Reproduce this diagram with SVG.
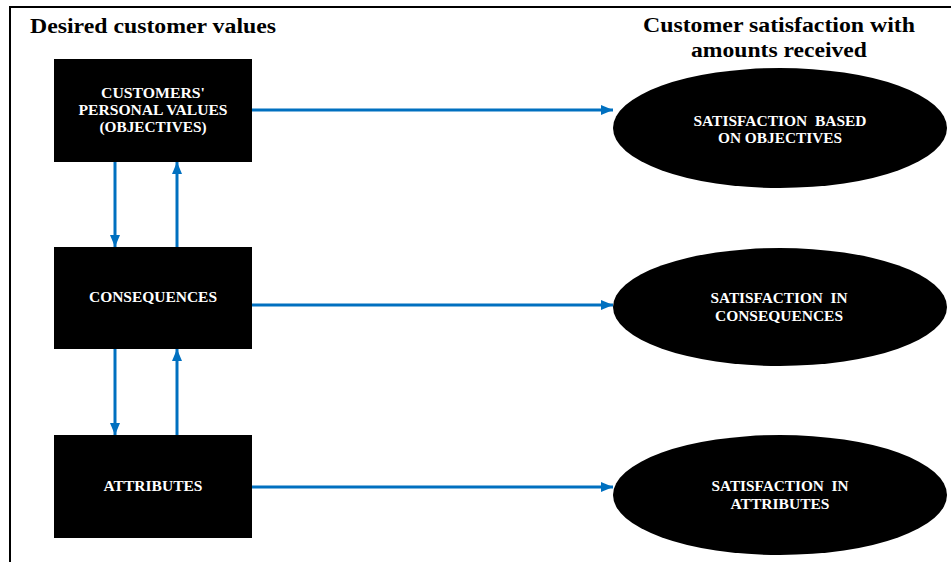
<svg xmlns="http://www.w3.org/2000/svg" width="951" height="562" viewBox="0 0 951 562">
<defs>
<style>
.title{font-family:"Liberation Serif","Times New Roman",serif;font-weight:bold;font-size:20px;fill:#000}
.lbl{font-family:"Liberation Serif","Times New Roman",serif;font-weight:bold;font-size:14px;fill:#fff;text-anchor:middle;white-space:pre}
.node{fill:#000}
.conn{stroke:#0070C0;stroke-width:3;fill:none;marker-end:url(#ah)}
</style>
<marker id="ah" viewBox="0 0 12 10" refX="12" refY="5" markerWidth="4" markerHeight="3.4" markerUnits="strokeWidth" orient="auto">
<path d="M0,0 L12,5 L0,10 Z" fill="#0070C0"/>
</marker>
</defs>
<rect width="951" height="562" fill="#fff"/>
<path d="M10,562 V7 H951" fill="none" stroke="#000" stroke-width="2"/>
<text class="title" x="30" y="33" textLength="246" lengthAdjust="spacingAndGlyphs">Desired customer values</text>
<text class="title" x="779" y="32" text-anchor="middle" textLength="272" lengthAdjust="spacingAndGlyphs">Customer satisfaction with</text>
<text class="title" x="779" y="57" text-anchor="middle" textLength="176" lengthAdjust="spacingAndGlyphs">amounts received</text>
<g id="connectors">
<line class="conn" x1="252" y1="110" x2="613" y2="110"/>
<line class="conn" x1="252" y1="305" x2="613" y2="305"/>
<line class="conn" x1="252" y1="487" x2="613" y2="487"/>
<line class="conn" x1="115" y1="162" x2="115" y2="247"/>
<line class="conn" x1="177" y1="247" x2="177" y2="162"/>
<line class="conn" x1="115" y1="349" x2="115" y2="435"/>
<line class="conn" x1="177" y1="435" x2="177" y2="349"/>
</g>
<g id="n-values">
<rect class="node" x="54" y="59" width="198" height="103"/>
<text class="lbl" x="153" y="97.5" textLength="104" lengthAdjust="spacingAndGlyphs">CUSTOMERS'</text>
<text class="lbl" x="153" y="115" textLength="149" lengthAdjust="spacingAndGlyphs">PERSONAL VALUES</text>
<text class="lbl" x="153" y="132" textLength="107" lengthAdjust="spacingAndGlyphs">(OBJECTIVES)</text>
</g>
<g id="n-consequences">
<rect class="node" x="54" y="247" width="198" height="102"/>
<text class="lbl" x="153" y="302" textLength="128" lengthAdjust="spacingAndGlyphs">CONSEQUENCES</text>
</g>
<g id="n-attributes">
<rect class="node" x="54" y="435" width="198" height="103"/>
<text class="lbl" x="153" y="491" textLength="99" lengthAdjust="spacingAndGlyphs">ATTRIBUTES</text>
</g>
<g id="s-objectives">
<ellipse class="node" cx="780" cy="128" rx="167" ry="60"/>
<text class="lbl" x="780" y="125.5" textLength="173" lengthAdjust="spacingAndGlyphs">SATISFACTION  BASED</text>
<text class="lbl" x="780" y="142.5" textLength="124" lengthAdjust="spacingAndGlyphs">ON OBJECTIVES</text>
</g>
<g id="s-consequences">
<ellipse class="node" cx="780" cy="307" rx="167" ry="59"/>
<text class="lbl" x="779" y="303" textLength="137" lengthAdjust="spacingAndGlyphs">SATISFACTION  IN</text>
<text class="lbl" x="779" y="321" textLength="128" lengthAdjust="spacingAndGlyphs">CONSEQUENCES</text>
</g>
<g id="s-attributes">
<ellipse class="node" cx="780" cy="495" rx="167" ry="60"/>
<text class="lbl" x="780" y="491" textLength="137" lengthAdjust="spacingAndGlyphs">SATISFACTION  IN</text>
<text class="lbl" x="780" y="509" textLength="99" lengthAdjust="spacingAndGlyphs">ATTRIBUTES</text>
</g>
</svg>
